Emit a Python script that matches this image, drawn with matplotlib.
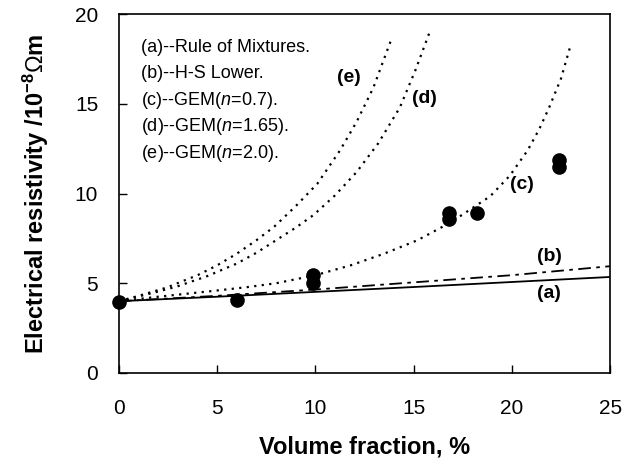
import matplotlib
matplotlib.use("Agg")
import matplotlib.pyplot as plt

plt.rcParams.update(
    {
        "font.family": ["Liberation Sans", "DejaVu Sans"],
        "mathtext.fontset": "custom",
        "mathtext.rm": "Liberation Sans",
        "mathtext.it": "Liberation Sans:italic",
        "mathtext.bf": "Liberation Sans:bold",
    }
)

# measured data points (volume fraction %, resistivity 1e-8 Ohm m)
pts_x = [0.0, 6.0, 9.9, 9.9, 16.8, 16.8, 18.2, 22.4, 22.4]
pts_y = [3.95, 4.07, 5.0, 5.45, 8.6, 8.9, 8.9, 11.45, 11.85]

# model curves
a_x = [0, 5, 10, 15, 20, 25]
a_y = [4.0, 4.25, 4.52, 4.79, 5.07, 5.35]

b_x = [0, 5, 10, 15, 20, 25]
b_y = [4.0, 4.3, 4.65, 5.05, 5.45, 5.95]

c_x = [0, 2, 4.6, 6.5, 8.0, 10, 11.8, 13.5, 15.2, 16.9, 18.9, 19.9, 20.8,
       21.4, 21.9, 22.5, 23.0]
c_y = [4.0, 4.25, 4.55, 4.78, 5.0, 5.45, 6.0, 6.65, 7.4, 8.4, 9.85, 11.0,
       12.4, 13.6, 14.8, 16.4, 18.3]

d_x = [0, 1.5, 2.9, 4.5, 6.0, 7.0, 8.0, 9.0, 9.9, 11.0, 12.1, 13.2, 14.3,
       15.1, 15.85]
d_y = [4.0, 4.4, 4.8, 5.4, 6.1, 6.7, 7.4, 8.1, 8.8, 9.9, 11.2, 12.8, 14.8,
       16.9, 19.1]

e_x = [0, 1, 2.4, 4.0, 5.0, 6.0, 7.0, 7.9, 9.0, 10.1, 11.25, 12.1, 12.95,
       13.9]
e_y = [4.0, 4.3, 4.75, 5.45, 6.0, 6.65, 7.4, 8.15, 9.3, 10.55, 12.4, 14.0,
       15.9, 18.7]

legend_lines = [
    "(a)--Rule of Mixtures.",
    "(b)--H-S Lower.",
    r"(c)--GEM($\mathit{n}$=0.7).",
    r"(d)--GEM($\mathit{n}$=1.65).",
    r"(e)--GEM($\mathit{n}$=2.0).",
]

fig = plt.figure(figsize=(6.24, 4.68), dpi=100)
ax = fig.add_axes([0.1907, 0.203, 0.787, 0.767])

dot = (0, (1, 2.4))
ax.plot(a_x, a_y, color="black", lw=1.3, ls="-")
ax.plot(b_x, b_y, color="black", lw=1.3, ls=(0, (7, 3, 2, 3)))
ax.plot(c_x, c_y, color="black", lw=1.6, ls=dot)
ax.plot(d_x, d_y, color="black", lw=1.6, ls=dot)
ax.plot(e_x, e_y, color="black", lw=1.6, ls=dot)
ax.plot(pts_x, pts_y, "o", color="black", ms=9.5, clip_on=False, zorder=5)

ax.set_xlim(0, 25)
ax.set_ylim(0, 20)
ax.set_xticks([0, 5, 10, 15, 20, 25])
ax.set_yticks([0, 5, 10, 15, 20])
ax.tick_params(direction="in", length=6, width=1, labelsize=15)
ax.tick_params(axis="x", pad=19)
ax.tick_params(axis="y", pad=15)
for s in ax.spines.values():
    s.set_linewidth(1.2)

ax.set_xlabel("Volume fraction, %", fontsize=17, fontweight="bold", labelpad=12)
ax.set_ylabel(
    r"Electrical resistivity /10$^{\mathbf{-8}}$$\Omega$m",
    fontsize=17, fontweight="bold", labelpad=17,
)

for i, t in enumerate(legend_lines):
    ax.text(1.1, 18.15 - i * 1.48, t, fontsize=13, va="center", ha="left")

lab = {"(a)": (21.9, 4.45), "(b)": (21.9, 6.5), "(c)": (20.5, 10.5),
       "(d)": (15.55, 15.3), "(e)": (11.7, 16.45)}
for k, (x, y) in lab.items():
    ax.text(x, y, k, fontsize=14, fontweight="bold", ha="center", va="center")

fig.savefig("out.png", dpi=100)
